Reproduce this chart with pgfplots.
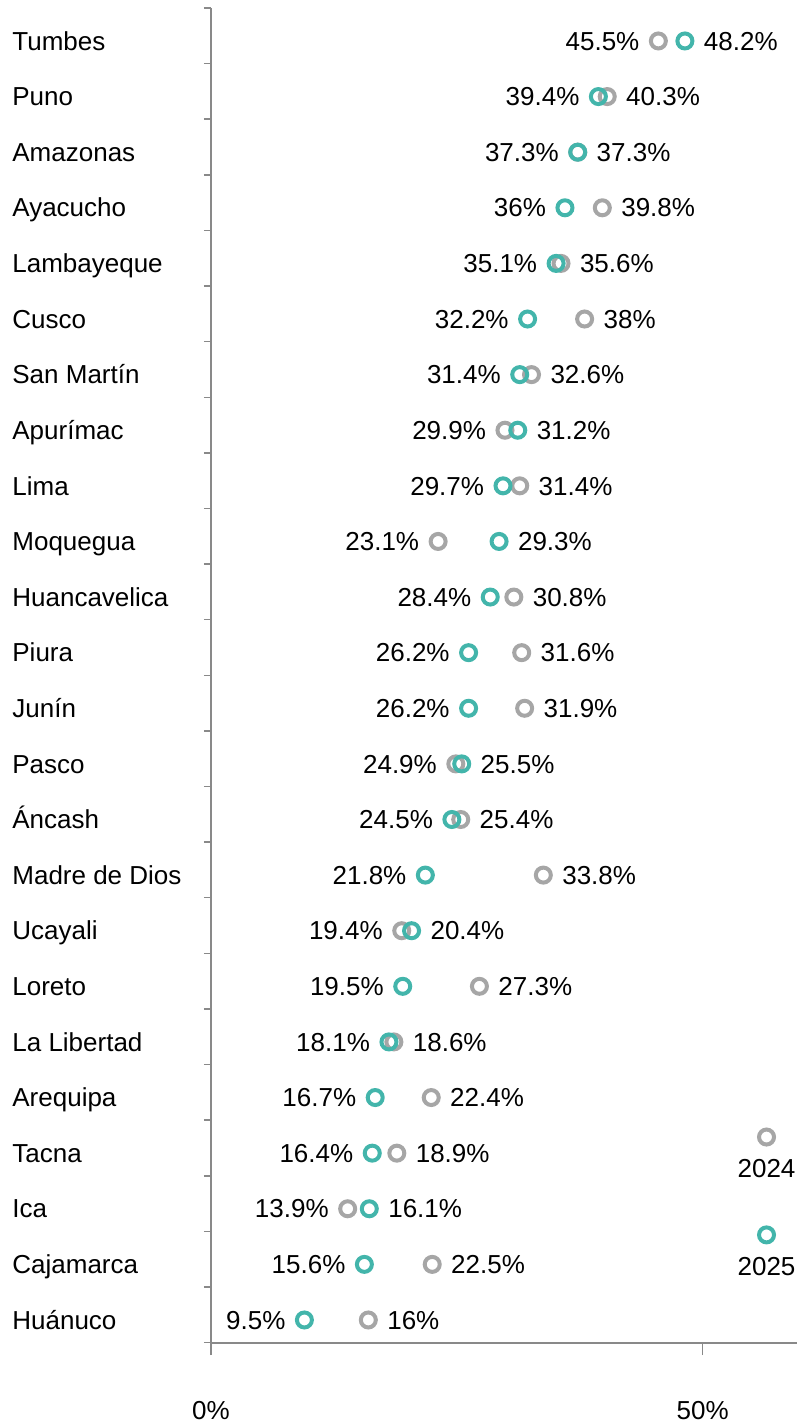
\documentclass[border=0pt]{standalone}
\usepackage{fontspec}
\setmainfont{Liberation Sans}
\usepackage{pgfplots}
\pgfplotsset{compat=1.18}
\definecolor{tealc}{RGB}{67,181,171}
\definecolor{grayc}{RGB}{166,166,166}
\definecolor{axgray}{RGB}{137,137,137}
\begin{document}
\begin{tikzpicture}
\path[use as bounding box] (0,0) rectangle (399.5pt,712.5pt);
\begin{axis}[
  at={(105.5pt,708.5pt)}, anchor=north west,
  scale only axis, width=293pt, height=667.5pt,
  xmin=0, xmax=59.6, ymin=-0.414, ymax=23.593,
  axis x line=bottom, axis y line=left,
  axis line style={axgray, line width=0.75pt, -},
  xtick={0,50}, xticklabels={0\%,50\%},
  ytick={0,...,23},
  yticklabels={Huánuco,Cajamarca,Ica,Tacna,Arequipa,La Libertad,Loreto,Ucayali,Madre de Dios,Áncash,Pasco,Junín,Piura,Huancavelica,Moquegua,Lima,Apurímac,San Martín,Cusco,Lambayeque,Ayacucho,Amazonas,Puno,Tumbes},
  minor ytick={-0.407,0.593,...,23.6},
  tick align=outside,
  major tick length=6pt, minor tick length=3.5pt,
  tick style={axgray, line width=0.75pt},
  major y tick style={draw=none},
  yticklabel style={anchor=base west, inner sep=0pt, xshift=-93.5pt, yshift=-4.6pt, font=\fontsize{13}{15}\selectfont},
  xticklabel style={anchor=north, inner sep=0pt, yshift=-23pt, font=\fontsize{13}{15}\selectfont},
  clip=false,
  point meta=x,
  /pgf/number format/assume math mode=true,
  every node near coord/.append style={font=\fontsize{13}{15}\selectfont, inner sep=0pt, text=black},
]
% 2024 (gray), label on the left
\addplot[only marks, mark=o, mark size=3.75pt, grayc, mark options={line width=2pt},
  nodes near coords={\pgfmathprintnumber{\pgfplotspointmeta}\%},
  nodes near coords style={anchor=base east, xshift=-8.5pt, yshift=-4.6pt}]
  coordinates {(45.5,23) (37.3,21) (29.9,16) (23.1,14) (24.9,10) (19.4,7) (13.9,2)};
% 2024 (gray), label on the right
\addplot[only marks, mark=o, mark size=3.75pt, grayc, mark options={line width=2pt},
  nodes near coords={\pgfmathprintnumber{\pgfplotspointmeta}\%},
  nodes near coords style={anchor=base west, xshift=8.5pt, yshift=-4.6pt}]
  coordinates {(40.3,22) (39.8,20) (35.6,19) (38,18) (32.6,17) (31.4,15) (30.8,13) (31.6,12) (31.9,11) (25.4,9) (33.8,8) (27.3,6) (18.6,5) (22.4,4) (18.9,3) (22.5,1) (16,0)};
% 2025 (teal), label on the left
\addplot[only marks, mark=o, mark size=3.75pt, tealc, mark options={line width=2pt},
  nodes near coords={\pgfmathprintnumber{\pgfplotspointmeta}\%},
  nodes near coords style={anchor=base east, xshift=-8.5pt, yshift=-4.6pt}]
  coordinates {(39.4,22) (36,20) (35.1,19) (32.2,18) (31.4,17) (29.7,15) (28.4,13) (26.2,12) (26.2,11) (24.5,9) (21.8,8) (19.5,6) (18.1,5) (16.7,4) (16.4,3) (15.6,1) (9.5,0)};
% 2025 (teal), label on the right
\addplot[only marks, mark=o, mark size=3.75pt, tealc, mark options={line width=2pt},
  nodes near coords={\pgfmathprintnumber{\pgfplotspointmeta}\%},
  nodes near coords style={anchor=base west, xshift=8.5pt, yshift=-4.6pt}]
  coordinates {(48.2,23) (37.3,21) (31.2,16) (29.3,14) (25.5,10) (20.4,7) (16.1,2)};
% legend
\addplot[only marks, mark=o, mark size=3.75pt, grayc, mark options={line width=2pt},
  nodes near coords={2024},
  nodes near coords style={anchor=north, yshift=-10pt}]
  coordinates {(56.5,3.29)};
\addplot[only marks, mark=o, mark size=3.75pt, tealc, mark options={line width=2pt},
  nodes near coords={2025},
  nodes near coords style={anchor=north, yshift=-10pt}]
  coordinates {(56.5,1.53)};
\end{axis}
\end{tikzpicture}
\end{document}
